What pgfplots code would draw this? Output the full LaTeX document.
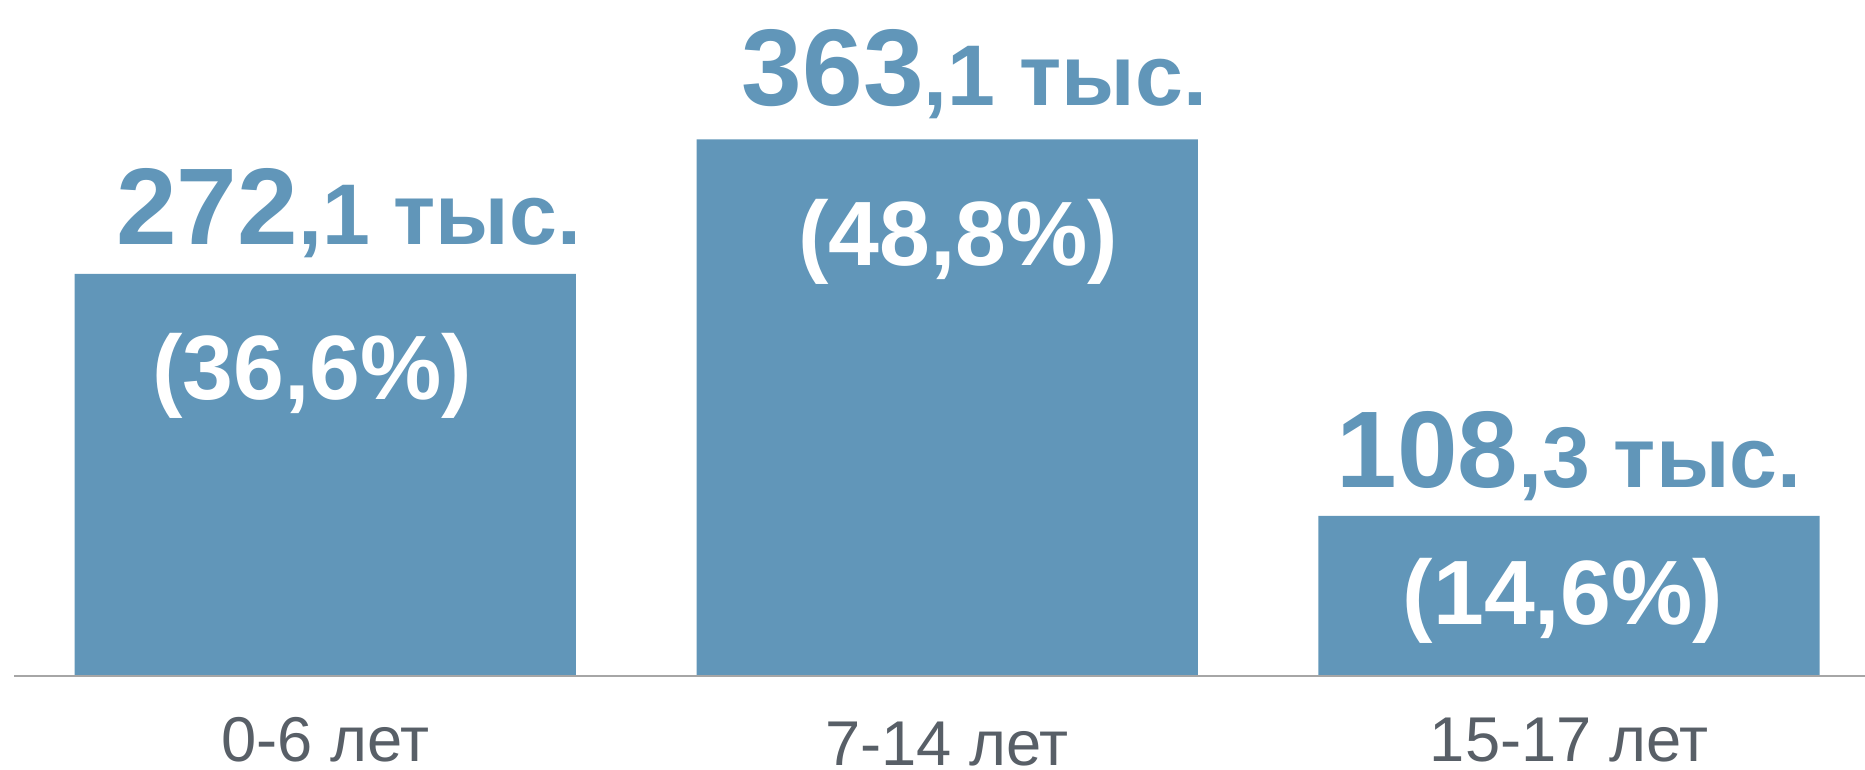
\documentclass[border=0pt]{standalone}
\usepackage{fontspec}
\setmainfont{Liberation Sans}
\usepackage{pgfplots}
\pgfplotsset{compat=1.18}
\definecolor{barblue}{RGB}{97,150,185}
\definecolor{cattext}{RGB}{88,95,103}
\definecolor{basegray}{RGB}{166,166,166}
\newcommand{\bignum}[1]{{\fontsize{31}{31}\selectfont #1}}
\newcommand{\smlnum}[1]{{\fontsize{24.5}{24.5}\selectfont #1}}
\newcommand{\pctnum}[1]{{\fontsize{26}{26}\selectfont #1}}
\newcommand{\cat}[1]{{\fontsize{18}{18}\selectfont #1}}
\begin{document}
\begin{tikzpicture}
\begin{axis}[
  scale only axis,
  width=186.5mm, height=76.9mm,
  xmin=-0.523, xmax=2.476,
  ymin=-62.9, ymax=457.4,
  axis line style={draw=none},
  xtick=\empty, ytick=\empty,
  clip=false,
]
\addplot[ybar, bar width=0.806, fill=barblue, draw=none, bar shift=0pt]
  coordinates {(0,272.1) (1,363.1) (2,108.3)};
\draw[basegray, line width=0.57pt] (axis cs:-0.5,0) -- (axis cs:2.476,0);
% value labels
\node[anchor=base, text=barblue, font=\bfseries, inner sep=0pt] at (axis cs:0.038,291.7) {\bignum{272}\smlnum{,1 тыс.}};
\node[anchor=base, text=barblue, font=\bfseries, inner sep=0pt] at (axis cs:1.044,386.1) {\bignum{363}\smlnum{,1 тыс.}};
\node[anchor=base, text=barblue, font=\bfseries, inner sep=0pt] at (axis cs:2.0,127.9) {\bignum{108}\smlnum{,3 тыс.}};
% percentage labels
\node[anchor=base, text=white, font=\bfseries, inner sep=0pt] at (axis cs:-0.021,186.8) {\pctnum{(36,6\%)}};
\node[anchor=base, text=white, font=\bfseries, inner sep=0pt] at (axis cs:1.018,277.8) {\pctnum{(48,8\%)}};
\node[anchor=base, text=white, font=\bfseries, inner sep=0pt] at (axis cs:1.99,34.6) {\pctnum{(14,6\%)}};
% category labels
\node[anchor=base, text=cattext, inner sep=0pt] at (axis cs:0,-57.8) {\cat{0-6 лет}};
\node[anchor=base, text=cattext, inner sep=0pt] at (axis cs:1,-60.8) {\cat{7-14 лет}};
\node[anchor=base, text=cattext, inner sep=0pt] at (axis cs:2,-57.8) {\cat{15-17 лет}};
\end{axis}
\pgfresetboundingbox
\path[use as bounding box] (current axis.south west) rectangle (current axis.north east);
\end{tikzpicture}
\end{document}
